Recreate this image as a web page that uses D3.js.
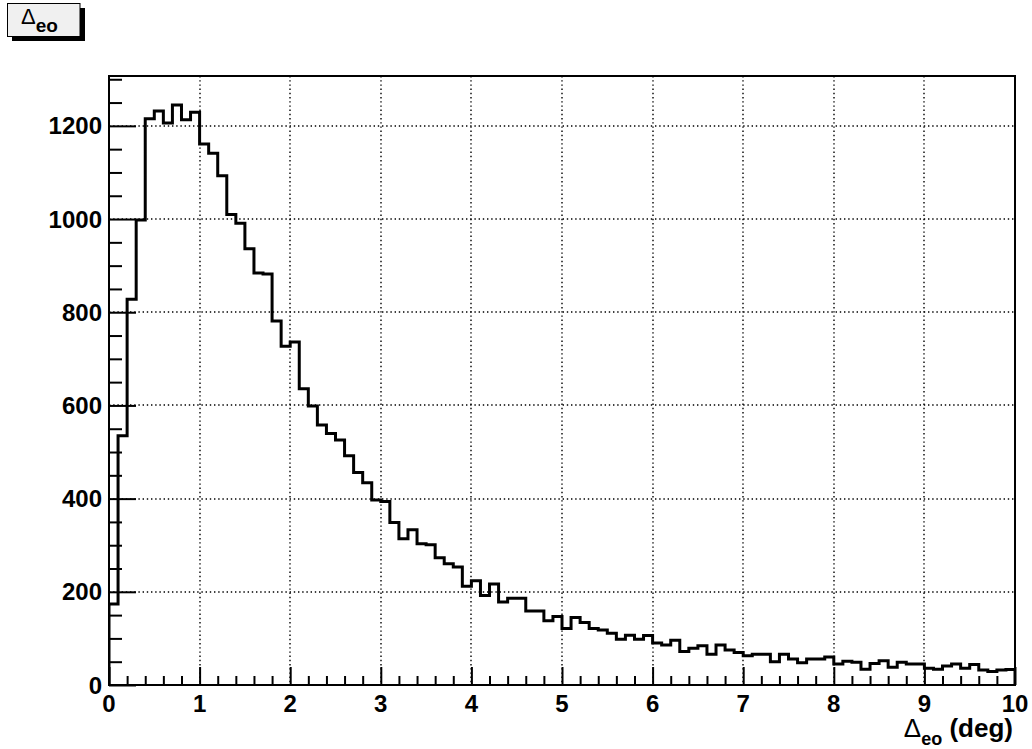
<!DOCTYPE html>
<html>
<head>
<meta charset="utf-8">
<script src="https://cdn.jsdelivr.net/npm/d3@7"></script>
<style>
  html, body { margin: 0; padding: 0; background: #fff; }
  svg { display: block; font-family: "Liberation Sans", Arial, Helvetica, sans-serif; }
</style>
</head>
<body>
<svg id="chart" width="1032" height="749"></svg>
<script>
// Histogram of Δeo: 100 bins of 0.1 deg between 0 and 10 deg
const binLow = 0;
const binHigh = 10;
const binCounts = [
  174, 535, 828, 998, 1215, 1232, 1206, 1245, 1213, 1229,
  1161, 1141, 1093, 1010, 991, 936, 884, 882, 781, 727,
  736, 636, 599, 558, 540, 526, 492, 456, 434, 397,
  394, 349, 314, 333, 303, 301, 273, 260, 253, 212,
  224, 192, 217, 178, 186, 186, 159, 159, 138, 147,
  121, 145, 134, 121, 118, 111, 98, 107, 98, 106,
  90, 86, 96, 72, 79, 84, 66, 86, 75, 70,
  63, 66, 66, 50, 66, 56, 48, 56, 56, 60,
  45, 51, 49, 34, 46, 52, 38, 49, 45, 45,
  36, 34, 41, 45, 36, 44, 32, 29, 32, 33
];
const xMajorTicks = [0, 1, 2, 3, 4, 5, 6, 7, 8, 9, 10];
const yMajorTicks = [0, 200, 400, 600, 800, 1000, 1200];
const yMax = 1307;

const frame = { left: 109, right: 1015, top: 76, bottom: 685 };

const svg = d3.select("#chart");

const x = d3.scaleLinear().domain([binLow, binHigh]).range([frame.left, frame.right]);
const y = d3.scaleLinear().domain([0, yMax]).range([frame.bottom, frame.top]);

// Dotted grid
const grid = svg.append("g")
  .attr("stroke", "#000")
  .attr("stroke-width", 1.4)
  .attr("stroke-dasharray", "1.4,2.8")
  .attr("fill", "none");
xMajorTicks.slice(1, -1).forEach(t => {
  grid.append("line")
    .attr("x1", Math.round(x(t))).attr("x2", Math.round(x(t)))
    .attr("y1", frame.top).attr("y2", frame.bottom);
});
yMajorTicks.slice(1).forEach(t => {
  grid.append("line")
    .attr("x1", frame.left).attr("x2", frame.right)
    .attr("y1", Math.round(y(t))).attr("y2", Math.round(y(t)));
});

// Axes with inward ticks
const xMinor = d3.range(0, 51).map(i => i * 0.2).filter(v => Math.abs(v - Math.round(v)) > 1e-6);
const yMinor = d3.range(0, 27).map(i => i * 50).filter(v => v % 200 !== 0);

const xAxisMajor = d3.axisTop(x).tickValues(xMajorTicks).tickSize(18).tickFormat("");
const xAxisMinor = d3.axisTop(x).tickValues(xMinor).tickSize(9).tickFormat("");
const yAxisMajor = d3.axisRight(y).tickValues(yMajorTicks).tickSize(27).tickFormat("");
const yAxisMinor = d3.axisRight(y).tickValues(yMinor).tickSize(13).tickFormat("");

[xAxisMajor, xAxisMinor].forEach(ax => {
  const g = svg.append("g").attr("transform", `translate(0,${frame.bottom})`).call(ax);
  g.select(".domain").remove();
  g.selectAll("line").attr("stroke", "#000").attr("stroke-width", 2);
});
[yAxisMajor, yAxisMinor].forEach(ax => {
  const g = svg.append("g").attr("transform", `translate(${frame.left},0)`).call(ax);
  g.select(".domain").remove();
  g.selectAll("line").attr("stroke", "#000").attr("stroke-width", 2);
});

// Tick labels
svg.append("g").selectAll("text")
  .data(xMajorTicks).join("text")
  .attr("x", d => x(d))
  .attr("y", frame.bottom + 27)
  .attr("text-anchor", "middle")
  .attr("font-size", 24).attr("font-weight", "bold")
  .text(d => d);

svg.append("g").selectAll("text")
  .data(yMajorTicks).join("text")
  .attr("x", frame.left - 7)
  .attr("y", d => y(d) + 8.5)
  .attr("text-anchor", "end")
  .attr("font-size", 24).attr("font-weight", "bold")
  .text(d => d);

// Histogram outline
const binWidth = (binHigh - binLow) / binCounts.length;
const pts = [[x(binLow), y(0)]];
binCounts.forEach((c, i) => {
  pts.push([x(binLow + i * binWidth), y(c)]);
  pts.push([x(binLow + (i + 1) * binWidth), y(c)]);
});
pts.push([x(binHigh), y(0)]);

svg.append("clipPath").attr("id", "frameClip")
  .append("rect")
  .attr("x", frame.left).attr("y", frame.top)
  .attr("width", frame.right - frame.left).attr("height", frame.bottom - frame.top);

svg.append("path")
  .attr("clip-path", "url(#frameClip)")
  .attr("d", d3.line()(pts))
  .attr("fill", "none")
  .attr("stroke", "#000")
  .attr("stroke-width", 3)
  .attr("stroke-linejoin", "miter");

// Frame
svg.append("rect")
  .attr("x", frame.left).attr("y", frame.top)
  .attr("width", frame.right - frame.left).attr("height", frame.bottom - frame.top)
  .attr("fill", "none").attr("stroke", "#000").attr("stroke-width", 2);

// Axis title
const xTitle = svg.append("text")
  .attr("x", 1013).attr("y", 737)
  .attr("text-anchor", "end")
  .attr("font-size", 26).attr("font-weight", "bold");
xTitle.append("tspan").attr("font-weight", "normal").text("Δ");
xTitle.append("tspan").attr("font-size", 18).attr("dy", 8).text("eo");
xTitle.append("tspan").attr("dy", -8).text(" (deg)");

// Title box with shadow
svg.append("rect").attr("x", 12).attr("y", 8).attr("width", 73).attr("height", 33).attr("fill", "#000");
svg.append("rect").attr("x", 7.5).attr("y", 3.5).attr("width", 72.5).attr("height", 33)
  .attr("fill", "#f0f0f0").attr("stroke", "#000").attr("stroke-width", 1);
const title = svg.append("text")
  .attr("x", 21).attr("y", 24)
  .attr("font-size", 22);
title.append("tspan").text("Δ");
title.append("tspan").attr("font-size", 19).attr("font-weight", "bold").attr("dy", 8).text("eo");
</script>
</body>
</html>
